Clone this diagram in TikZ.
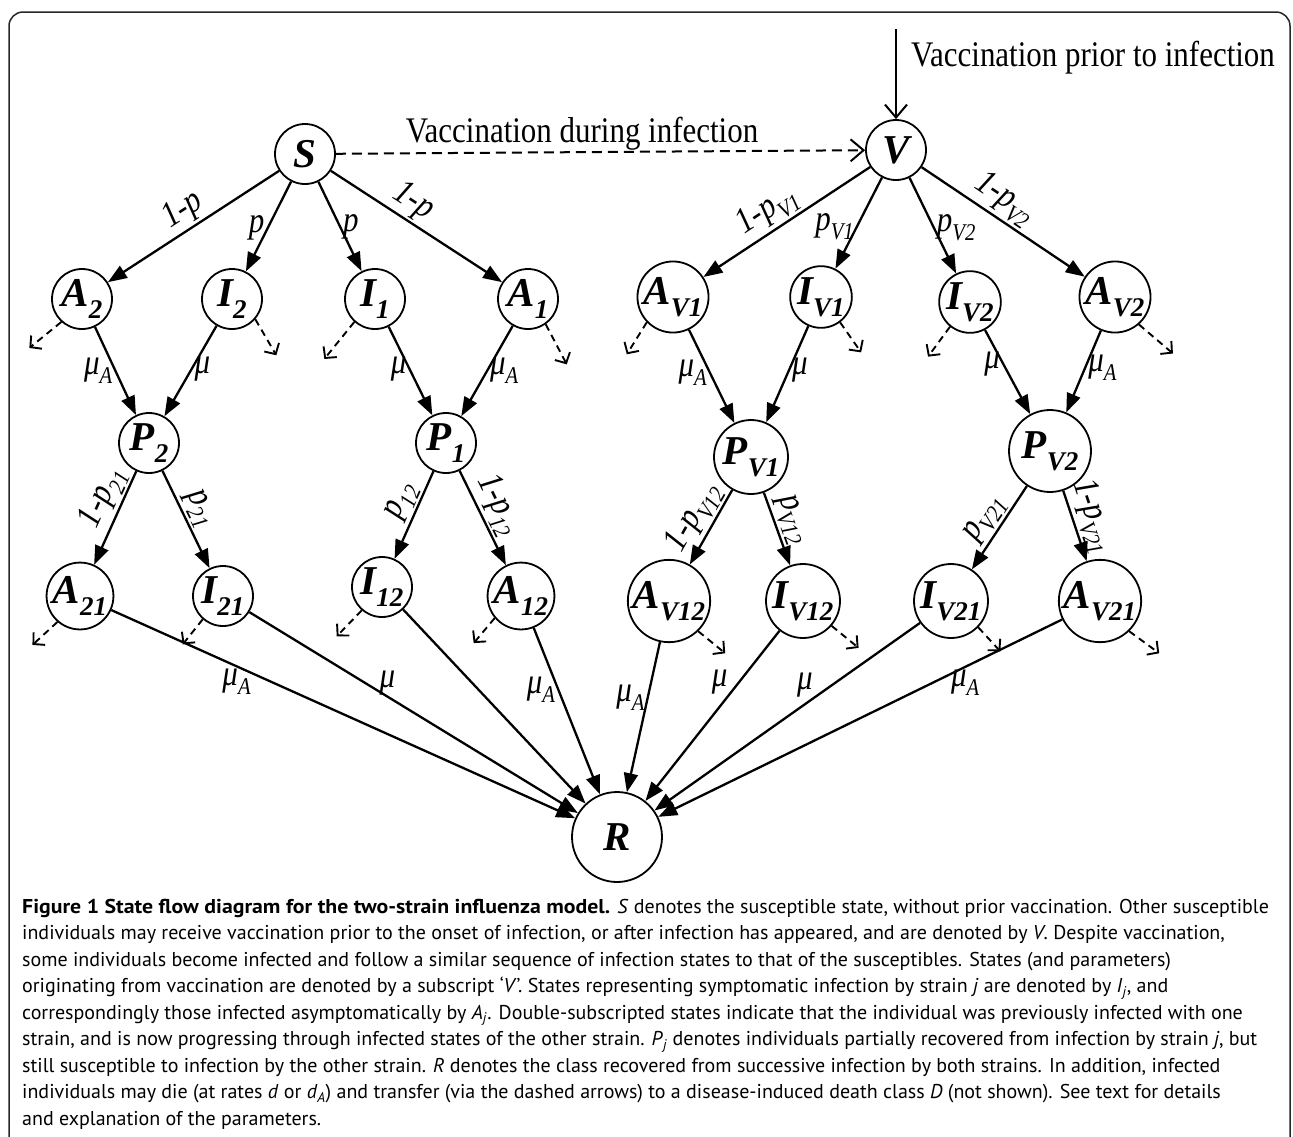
\documentclass[tikz,border=0pt]{standalone}
\usepackage{fontspec}
\setmainfont{Liberation Serif}
\newfontfamily\labfont[FakeStretch=0.86]{Liberation Serif}
\newfontfamily\capfont[BoldFeatures={FakeStretch=1.09}]{PT Sans}
\usetikzlibrary{arrows.meta}

\newcommand{\ssub}[2]{#1\raisebox{-0.3em}{\fontsize{27}{27}\selectfont #2}}
\newcommand{\lsub}[2]{#1\raisebox{-0.25em}{\fontsize{24}{24}\selectfont #2}}

\tikzset{
  state/.style={circle, draw, line width=1.8pt, inner sep=0pt, minimum size=60pt,
    font={\fontsize{41}{41}\selectfont\bfseries\itshape}},
  flow/.style={line width=2.3pt, -{Triangle[length=19pt,width=14pt]}},
  death/.style={line width=1.9pt, dash pattern=on 7pt off 5pt,
    -{Straight Barb[length=8pt,width=17pt]}},
  vacc/.style={line width=2pt, -{Straight Barb[length=13pt,width=22pt]}},
  lab/.style={font={\labfont\itshape\fontsize{36}{36}\selectfont}, inner sep=2pt},
  big/.style={font={\labfont\fontsize{36}{36}\selectfont}, inner sep=0pt}
}

\begin{document}
\begin{tikzpicture}[x=1pt, y=-1pt]
\useasboundingbox (0,0) rectangle (1293,1136);
\draw[line width=1.5pt, draw=black!85, rounded corners=14pt] (9,12) rectangle (1290,1180);

\node[state] (S) at (305,154) {S};
\node[state] (V) at (896,150) {V};

\node[state] (A2) at (82,299) {\ssub{A}{2}};
\node[state] (I2) at (232,299) {\ssub{I}{2}};
\node[state] (I1) at (375,299) {\ssub{I}{1}};
\node[state] (A1) at (528,299) {\ssub{A}{1}};
\node[state] (AV1) at (673,297) {\ssub{A}{V1}};
\node[state] (IV1) at (821,297) {\ssub{I}{V1}};
\node[state] (IV2) at (970,302) {\ssub{I}{V2}};
\node[state, minimum size=70pt] (AV2) at (1115,297) {\ssub{A}{V2}};

\node[state] (P2) at (149,443) {\ssub{P}{2}};
\node[state] (P1) at (446,443) {\ssub{P}{1}};
\node[state, minimum size=74pt] (PV1) at (751,457) {\ssub{P}{V1}};
\node[state, minimum size=82pt] (PV2) at (1050,451) {\ssub{P}{V2}};

\node[state] (A21) at (80,596) {\ssub{A}{21}};
\node[state] (I21) at (223,596) {\ssub{I}{21}};
\node[state] (I12) at (382,587) {\ssub{I}{12}};
\node[state, minimum size=66pt] (A12) at (521,596) {\ssub{A}{12}};
\node[state, minimum size=72pt] (AV12) at (669,601) {\ssub{A}{V12}};
\node[state, minimum size=74pt] (IV12) at (803,601) {\ssub{I}{V12}};
\node[state, minimum size=74pt] (IV21) at (951,601) {\ssub{I}{V21}};
\node[state, minimum size=76pt] (AV21) at (1100,601) {\ssub{A}{V21}};

\node[state, minimum size=90pt] (R) at (617,837) {R};

% vaccination
\coordinate (vin) at (896,29);
\draw[vacc] (vin) -- (V);
\node[big, anchor=west] (prior) at (911,58) {Vaccination prior to infection};
\draw[vacc, dash pattern=on 10pt off 6pt] (S) -- (V);
\node[big] (during) at (582,134) {Vaccination during infection};

\draw[flow] (S) -- node[lab, sloped, above, pos=0.5] {1-p} (A2);
\draw[flow] (S) -- node[lab, left, pos=0.52] {p} (I2);
\draw[flow] (S) -- node[lab, right, pos=0.5] {p} (I1);
\draw[flow] (S) -- node[lab, sloped, above, pos=0.42] {1-p} (A1);
\draw[flow] (V) -- node[lab, sloped, above, pos=0.55] {\lsub{1-p}{V1}} (AV1);
\draw[flow] (V) -- node[lab, left, pos=0.54] {\lsub{p}{V1}} (IV1);
\draw[flow] (V) -- node[lab, right, pos=0.52] {\lsub{p}{V2}} (IV2);
\draw[flow] (V) -- node[lab, sloped, above, pos=0.44] {\lsub{1-p}{V2}} (AV2);

\draw[flow] (A2) -- node[lab, left, pos=0.5] {\lsub{μ}{A}} (P2);
\draw[flow] (I2) -- node[lab, right, pos=0.48] {μ} (P2);
\draw[flow] (I1) -- node[lab, left, pos=0.48] {μ} (P1);
\draw[flow] (A1) -- node[lab, right, pos=0.5] {\lsub{μ}{A}} (P1);
\draw[flow] (AV1) -- node[lab, left, pos=0.46] {\lsub{μ}{A}} (PV1);
\draw[flow] (IV1) -- node[lab, right, pos=0.46] {μ} (PV1);
\draw[flow] (IV2) -- node[lab, left, pos=0.4] {μ} (PV2);
\draw[flow] (AV2) -- node[lab, right, pos=0.45] {\lsub{μ}{A}} (PV2);

\draw[flow] (P2) -- node[lab, sloped, above, pos=0.37] {\lsub{1-p}{21}} (A21);
\draw[flow] (P2) -- node[lab, sloped, above, pos=0.46] {\lsub{p}{21}} (I21);
\draw[flow] (P1) -- node[lab, sloped, above, pos=0.42] {\lsub{p}{12}} (I12);
\draw[flow] (P1) -- node[lab, sloped, above, pos=0.45] {\lsub{1-p}{12}} (A12);
\draw[flow] (PV1) -- node[lab, sloped, above, pos=0.5] {\lsub{1-p}{V12}} (AV12);
\draw[flow] (PV1) -- node[lab, sloped, above, pos=0.45] {\lsub{p}{V12}} (IV12);
\draw[flow] (PV2) -- node[lab, sloped, above, pos=0.5] {\lsub{p}{V21}} (IV21);
\draw[flow] (PV2) -- node[lab, sloped, above, pos=0.45] {\lsub{1-p}{V21}} (AV21);

\draw[flow] (A21) -- node[lab, below, pos=0.27] {\lsub{μ}{A}} (R);
\draw[flow] (I21) -- node[lab, above, pos=0.42, inner sep=0pt] {μ} (R);
\draw[flow] (I12) -- (R);
\draw[flow] (A12) -- node[lab, left, pos=0.37] {\lsub{μ}{A}} (R);
\draw[flow] (AV12) -- node[lab, left, pos=0.37] {\lsub{μ}{A}} (R);
\draw[flow] (IV12) -- node[lab, above left, pos=0.38, inner sep=0pt] {μ} (R);
\draw[flow] (IV21) -- node[lab, above left, pos=0.4, inner sep=0pt] {μ} (R);
\draw[flow] (AV21) -- node[lab, below, pos=0.24] {\lsub{μ}{A}} (R);

\foreach \n/\a/\dx/\dy in {A2/228/-32/26, I2/-41/21/36, I1/228/-30/37, A1/-55/21/40,
    AV1/224/-20/32, IV1/-53/21/30, IV2/231/-22/30, AV2/-49/34/29,
    A21/229/-25/23, I21/229/-20/25, I12/229/-25/26, A12/220/-21/25,
    AV12/-46/27/22, IV12/-41/27/22, IV21/-44/22/24, AV21/-46/30/22}
  \draw[death] (\n.\a) -- ++(\dx,\dy);

\node[anchor=north west, align=left, inner sep=0pt,
  font={\capfont\fontsize{20}{26.5}\selectfont}] (caption) at (22,899) {%
\textbf{Figure 1 State flow diagram for the two-strain influenza model.} \textit{S} denotes the susceptible state, without prior vaccination. Other susceptible\\
individuals may receive vaccination prior to the onset of infection, or after infection has appeared, and are denoted by \textit{V}. Despite vaccination,\\
some individuals become infected and follow a similar sequence of infection states to that of the susceptibles. States (and parameters)\\
originating from vaccination are denoted by a subscript ‘\textit{V}’. States representing symptomatic infection by strain \textit{j} are denoted by \textit{I}\textsubscript{\textit{j}}, and\\
correspondingly those infected asymptomatically by \textit{A}\textsubscript{\textit{j}}. Double-subscripted states indicate that the individual was previously infected with one\\
strain, and is now progressing through infected states of the other strain. \textit{P}\textsubscript{\textit{j}} denotes individuals partially recovered from infection by strain \textit{j}, but\\
still susceptible to infection by the other strain. \textit{R} denotes the class recovered from successive infection by both strains. In addition, infected\\
individuals may die (at rates \textit{d} or \textit{d}\textsubscript{\textit{A}}) and transfer (via the dashed arrows) to a disease-induced death class \textit{D} (not shown). See text for details\\
and explanation of the parameters.};
\end{tikzpicture}
\end{document}
